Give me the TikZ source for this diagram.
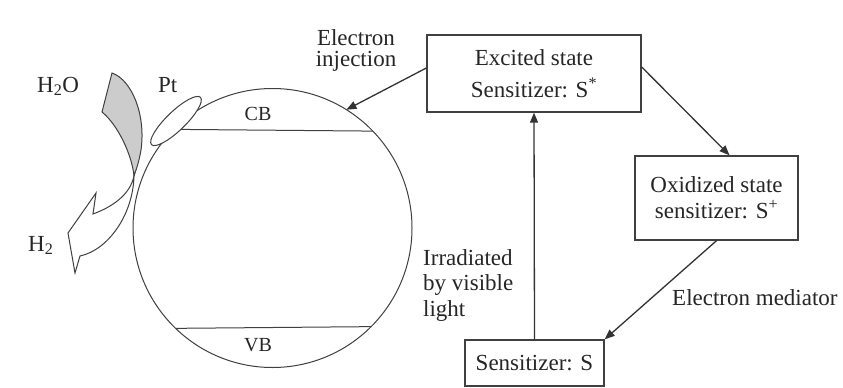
\documentclass[tikz,border=0pt]{standalone}
\usepackage{fontspec}
\setmainfont{Liberation Serif}
\usetikzlibrary{arrows.meta,shapes.geometric}
\begin{document}
\begin{tikzpicture}[x=1pt,y=-1pt,
  txt/.style={font=\fontsize{23}{28}\selectfont, text=black!85, inner sep=0pt},
  small/.style={font=\fontsize{20}{24}\selectfont, text=black!85, inner sep=0pt},
  boxnode/.style={draw=black!75, line width=1.4pt, inner sep=0pt, align=center, text=black!85},
  thin/.style={draw=black!75, line width=1pt},
  conn/.style={draw=black!80, line width=1.3pt, -{Triangle[length=10pt,width=8pt]}},
]
\useasboundingbox[fill=white] (0,0) rectangle (843,388);

% particle
\node[circle, thin, minimum size=279pt, inner sep=0pt, outer sep=0pt] (sc) at (272.5,228) {};
\draw[thin] (sc.135.4) -- (sc.44.6);
\draw[thin] (sc.-134.2) -- (sc.-45.8);
\node[small] (cb) at (258,114) {CB};
\node[small] (vb) at (258,345) {VB};

% Pt
\node[ellipse, thin, minimum width=68pt, minimum height=19pt, rotate=44, inner sep=0pt, fill=white] (pt) at (176,121) {};
\node[txt, anchor=base west] (ptl) at (158,92) {Pt};

% water ribbon
\filldraw[thin, fill=black!20] (112,73) .. controls (132,80) and (146,115) .. (141,150)
  .. controls (139,162) and (136,170) .. (134,176)
  .. controls (132,155) and (118,125) .. (102,112) -- cycle;
\filldraw[thin, fill=white] (134,176) .. controls (130,195) and (112,207) .. (93,214)
  -- (96,193) -- (68,233) -- (75,273) -- (80,256)
  .. controls (108,250) and (133,215) .. (134,176) -- cycle;
\node[txt, anchor=base west] (h2o) at (37,92) {H\textsubscript{2}O};
\node[txt, anchor=base west] (h2) at (28,251) {H\textsubscript{2}};

% boxes
\node[boxnode, minimum width=214pt, minimum height=77pt, font=\fontsize{23}{32}\selectfont] (exc) at (534,73.5) {Excited state\\Sensitizer: S\textsuperscript{*}};
\node[boxnode, minimum width=163pt, minimum height=84pt, font=\fontsize{23}{26}\selectfont] (oxi) at (716.5,198) {Oxidized state\\sensitizer: S\textsuperscript{+}};
\node[boxnode, minimum width=139pt, minimum height=46pt, font=\fontsize{23}{28}\selectfont] (sens) at (534.5,363) {Sensitizer: S};

% labels
\node[txt, anchor=base] (inj1) at (356,45) {Electron};
\node[txt, anchor=base] (inj2) at (356,66) {injection};
\node[txt, anchor=base west] (irr1) at (423,265) {Irradiated};
\node[txt, anchor=base west] (irr2) at (423,290.5) {by visible};
\node[txt, anchor=base west] (irr3) at (423,316) {light};
\node[txt, anchor=base west] (med) at (672,305) {Electron mediator};

% connectors
\draw[conn] ([yshift=5.5pt]exc.west) -- (sc.58);
\draw[conn] ([yshift=6.5pt]exc.east) -- ([xshift=13pt]oxi.north);
\draw[conn] (sens.north) -- (exc.south);
\draw[conn] (oxi.south) -- (sens.north east);
\end{tikzpicture}
\end{document}
